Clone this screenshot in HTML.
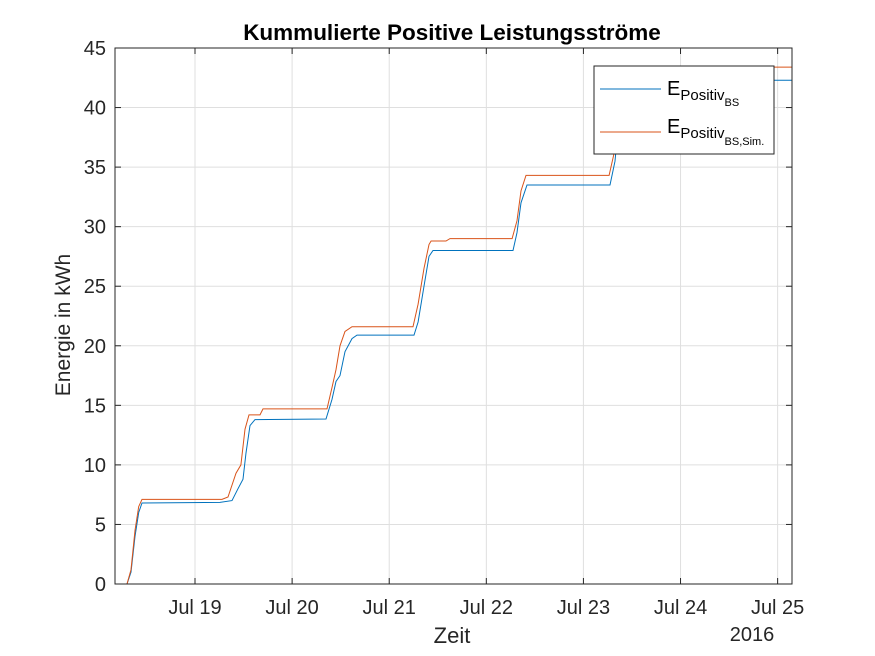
<!DOCTYPE html>
<html><head><meta charset="utf-8"><style>
body{margin:0;background:#fff;}
svg{display:block;font-family:"Liberation Sans",Arial,sans-serif;}
</style></head><body>
<svg id="chart" width="875" height="656">
<rect width="875" height="656" fill="#fff"/>
<g id="grid"></g>
<g id="series"></g>
<g id="axes"></g>
<text x="452" y="40" text-anchor="middle" font-size="22.5" font-weight="bold" fill="#000">Kummulierte Positive Leistungsströme</text>
<text x="452" y="643" text-anchor="middle" font-size="22" fill="#262626">Zeit</text>
<text x="0" y="0" transform="translate(70,325) rotate(-90)" text-anchor="middle" font-size="21" fill="#262626">Energie in kWh</text>
<text x="752" y="641" text-anchor="middle" font-size="20" fill="#262626">2016</text>
<g>
<rect x="594" y="66" width="180" height="88" fill="#fff" stroke="#262626" stroke-width="1"/>
<line x1="600" y1="89" x2="661" y2="89" stroke="#0072BD" stroke-width="1"/>
<text x="667" y="95" font-size="20" fill="#000">E<tspan font-size="15" dy="5">Positiv</tspan><tspan font-size="11" dy="6">BS</tspan></text>
<line x1="600" y1="132" x2="661" y2="132" stroke="#D95319" stroke-width="1"/>
<text x="667" y="133" font-size="20" fill="#000">E<tspan font-size="15" dy="5">Positiv</tspan><tspan font-size="11" dy="7">BS,Sim.</tspan></text>
</g>
</svg>
<script>
const yTicks = [0,5,10,15,20,25,30,35,40,45];
const xTickDays = [1,2,3,4,5,6,7];
const xTickLabels = ["Jul 19","Jul 20","Jul 21","Jul 22","Jul 23","Jul 24","Jul 25"];
const blueTimes = [0.176,0.300,0.341,0.382,0.420,0.454,1.257,1.381,1.443,1.494,1.525,1.566,1.618,2.349,2.411,2.452,2.493,2.545,2.617,2.668,3.255,3.297,3.358,3.410,3.451,4.275,4.316,4.357,4.419,5.274,5.325,5.377,5.428,7.148];
const blueValues = [0,0,1,4,6,6.8,6.85,7.0,8.0,8.8,11,13.3,13.8,13.85,15.5,17,17.5,19.5,20.6,20.9,20.9,22,25,27.5,28,28,29.5,32,33.5,33.5,35.5,40,42.3,42.3];
const redTimes = [0.176,0.300,0.341,0.382,0.420,0.454,1.278,1.340,1.422,1.473,1.515,1.556,1.669,1.700,2.359,2.411,2.452,2.493,2.545,2.617,2.668,3.245,3.297,3.358,3.410,3.431,3.585,3.626,4.265,4.316,4.357,4.409,5.264,5.325,5.377,5.428,7.148];
const redValues = [0,0,1.2,4.5,6.5,7.1,7.1,7.3,9.3,10,13,14.2,14.2,14.7,14.7,16.5,18,20,21.2,21.6,21.6,21.6,23.5,26.5,28.5,28.8,28.8,29.0,29.0,30.5,33,34.3,34.3,36.5,41,43.4,43.4];

const L=115,R=792,T=48,B=584, xMin=0.176, xMax=7.148, yMax=45;
const X=d=>L+(d-xMin)/(xMax-xMin)*(R-L);
const Y=v=>B-v/yMax*(B-T);
const NS="http://www.w3.org/2000/svg";
function mk(tag,attrs,parent){const e=document.createElementNS(NS,tag);for(const k in attrs)e.setAttribute(k,attrs[k]);parent.appendChild(e);return e;}
const grid=document.getElementById('grid'),axes=document.getElementById('axes'),series=document.getElementById('series');
yTicks.forEach(v=>{
  const g=mk('line',{x1:L,x2:R,y1:Y(v),y2:Y(v),stroke:'#dfdfdf','stroke-width':1},grid);
  
  
  mk('line',{x1:L,x2:L+6,y1:Y(v),y2:Y(v),stroke:'#262626'},axes);
  mk('line',{x1:R,x2:R-6,y1:Y(v),y2:Y(v),stroke:'#262626'},axes);
  const t=mk('text',{x:L-9,y:Y(v)+7,'text-anchor':'end','font-size':'20',fill:'#262626'},axes);
  t.textContent=v;
  
  
});
xTickDays.forEach((d,i)=>{
  const g=mk('line',{x1:X(d),x2:X(d),y1:T,y2:B,stroke:'#dfdfdf','stroke-width':1},grid);
  
  
  mk('line',{x1:X(d),x2:X(d),y1:B,y2:B-6,stroke:'#262626'},axes);
  mk('line',{x1:X(d),x2:X(d),y1:T,y2:T+6,stroke:'#262626'},axes);
  const t=mk('text',{x:X(d),y:614,'text-anchor':'middle','font-size':'20',fill:'#262626'},axes);
  t.textContent=xTickLabels[i];
  
  
});
const box=mk('rect',{x:L,y:T,width:R-L,height:B-T,fill:'none',stroke:'#262626','stroke-width':1},axes);


function line(ts,vs,color,name){
  const p=ts.map((t,i)=>(i?'L':'M')+X(t).toFixed(1)+' '+Y(vs[i]).toFixed(1)).join(' ');
  const e=mk('path',{d:p,fill:'none',stroke:color,'stroke-width':1},series);
  
  
}
line(blueTimes,blueValues,'#0072BD','series-e-positiv-bs');
line(redTimes,redValues,'#D95319','series-e-positiv-bs-sim');
</script>
</body></html>
